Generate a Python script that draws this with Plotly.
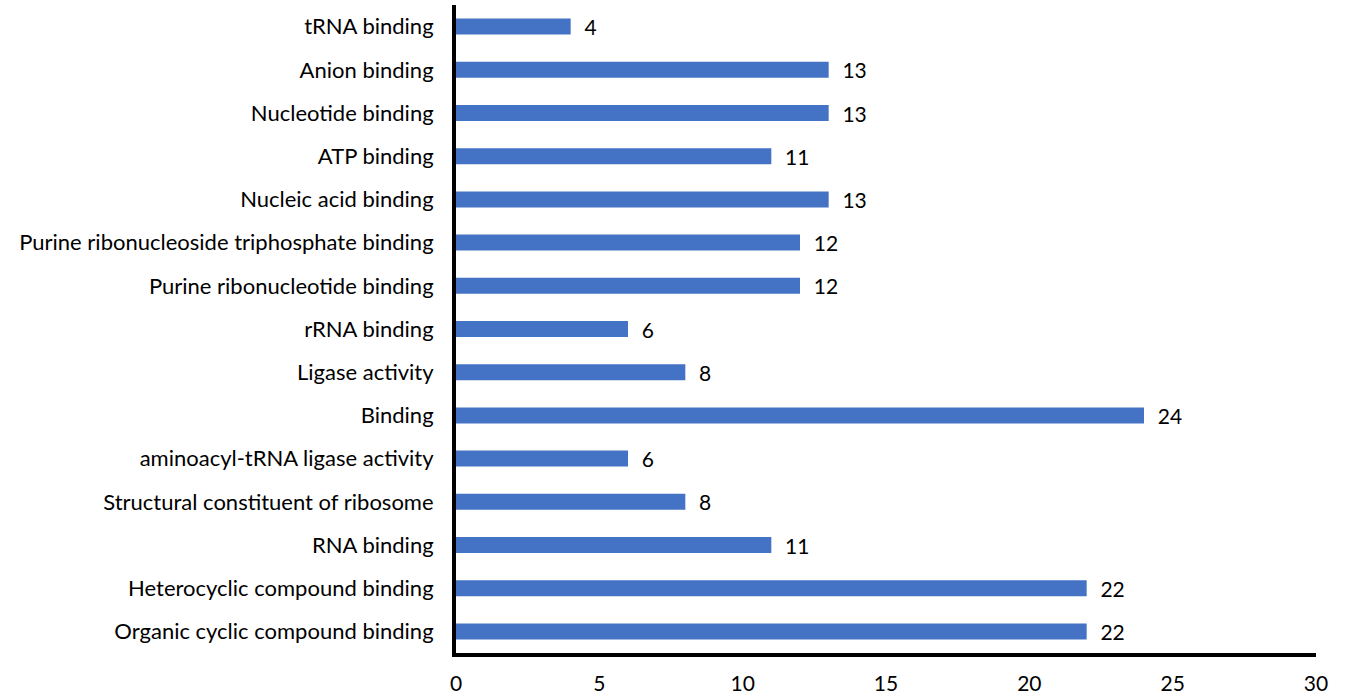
import plotly.graph_objects as go

categories = [
    "Organic cyclic compound binding",
    "Heterocyclic compound binding",
    "RNA binding",
    "Structural constituent of ribosome",
    "aminoacyl-tRNA ligase activity",
    "Binding",
    "Ligase activity",
    "rRNA binding",
    "Purine ribonucleotide binding",
    "Purine ribonucleoside triphosphate binding",
    "Nucleic acid binding",
    "ATP binding",
    "Nucleotide binding",
    "Anion binding",
    "tRNA binding",
]
values = [22, 22, 11, 8, 6, 24, 8, 6, 12, 12, 13, 11, 13, 13, 4]
x_ticks = [0, 5, 10, 15, 20, 25, 30]

FONT = "Lato"
FS = 22

fig = go.Figure(go.Bar(
    x=values,
    y=categories,
    orientation="h",
    width=0.37,
    marker=dict(color="#4472C4", line=dict(width=0)),
    text=values,
    texttemplate="  %{x}",
    textposition="outside",
    constraintext="none",
    textfont=dict(family=FONT, size=21, color="black"),
    cliponaxis=False,
))

fig.update_layout(
    width=1347, height=696,
    margin=dict(l=456, r=31, t=5, b=43),
    plot_bgcolor="white", paper_bgcolor="white",
    showlegend=False,
    font=dict(family=FONT, size=FS, color="black"),
)
fig.update_xaxes(
    range=[0, 30], tickvals=x_ticks, showgrid=False, zeroline=False,
    showline=True, linecolor="black", linewidth=4,
    ticks="", tickfont=dict(family=FONT, size=21, color="black"),
    ticklabelstandoff=9, automargin=False,
)
fig.update_yaxes(
    range=[-0.5, 14.5], showgrid=False, zeroline=False,
    showline=True, linecolor="black", linewidth=4,
    ticks="", tickfont=dict(family=FONT, size=FS, color="black"),
    ticklabelstandoff=14, automargin=False,
)

fig.write_html("out.html")
